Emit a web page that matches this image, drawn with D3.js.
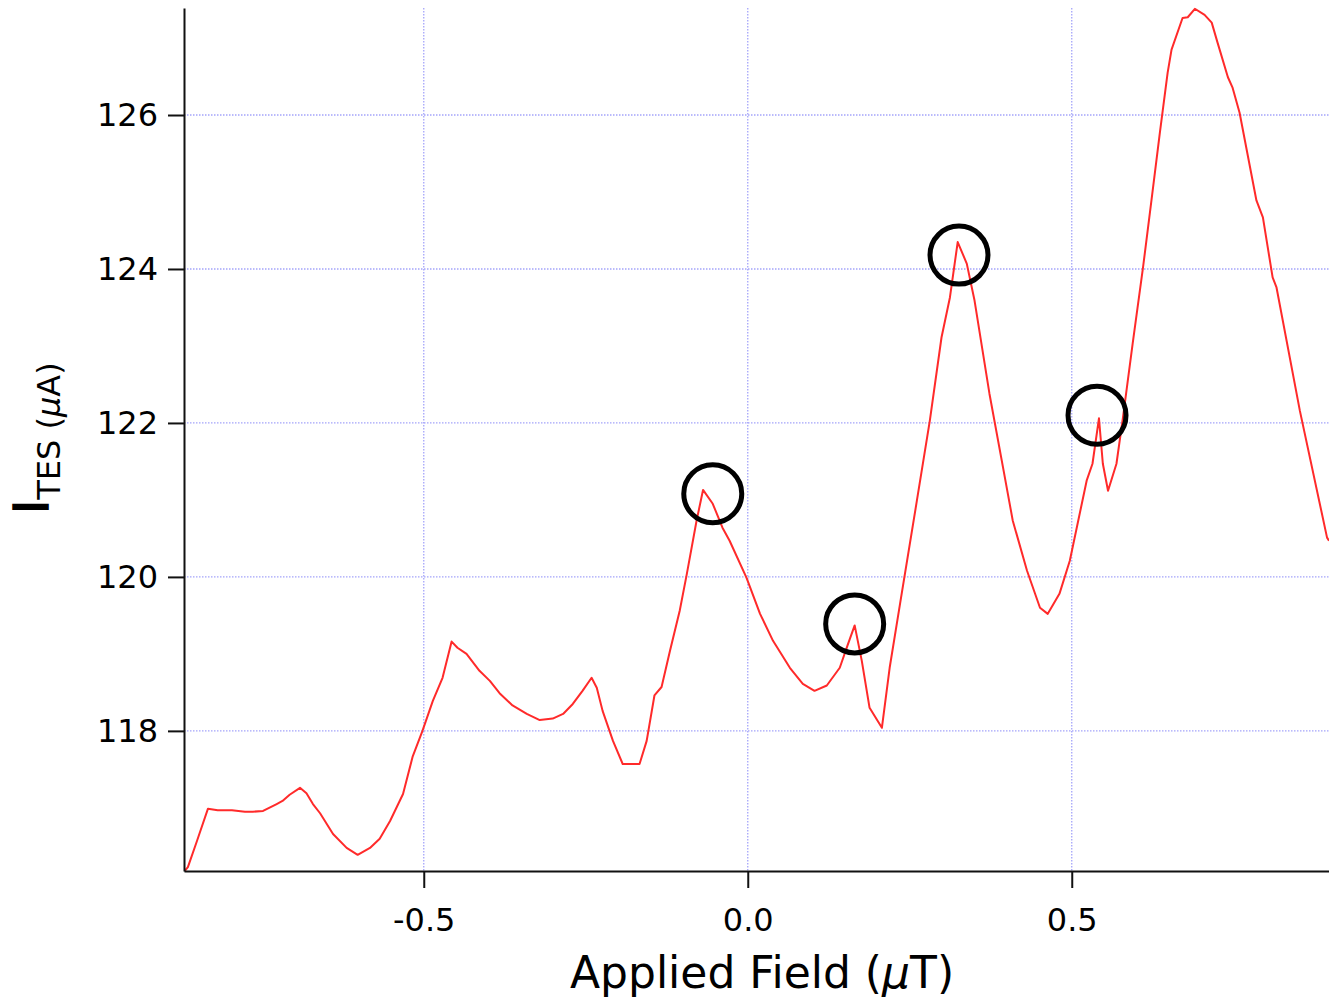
<!DOCTYPE html>
<html><head><meta charset="utf-8">
<script src="https://cdn.jsdelivr.net/npm/d3@7"></script>
<style>body{margin:0;background:#fff}svg{display:block}</style>
</head><body>
<script>
// Applied field (µT)
const fieldValues = [-0.869,-0.864,-0.850,-0.833,-0.818,-0.796,-0.776,-0.764,-0.748,-0.727,-0.718,-0.707,-0.691,-0.681,-0.671,-0.660,-0.640,-0.619,-0.602,-0.583,-0.568,-0.552,-0.532,-0.517,-0.502,-0.486,-0.471,-0.457,-0.448,-0.434,-0.414,-0.398,-0.383,-0.363,-0.341,-0.321,-0.301,-0.285,-0.270,-0.255,-0.241,-0.233,-0.224,-0.208,-0.193,-0.167,-0.156,-0.144,-0.133,-0.120,-0.105,-0.094,-0.079,-0.069,-0.054,-0.039,-0.028,-0.002,0.019,0.039,0.065,0.085,0.103,0.122,0.142,0.154,0.165,0.176,0.188,0.207,0.219,0.235,0.261,0.281,0.299,0.312,0.324,0.338,0.350,0.373,0.394,0.409,0.431,0.451,0.463,0.481,0.497,0.523,0.532,0.542,0.548,0.556,0.569,0.579,0.594,0.610,0.623,0.636,0.648,0.654,0.671,0.679,0.690,0.705,0.716,0.725,0.741,0.748,0.759,0.785,0.795,0.810,0.816,0.852,0.894,0.897];
// I_TES (µA)
const currentValues = [116.18,116.23,116.57,116.99,116.97,116.97,116.95,116.95,116.96,117.05,117.09,117.17,117.26,117.19,117.05,116.93,116.66,116.48,116.39,116.48,116.60,116.83,117.18,117.67,118.00,118.39,118.69,119.16,119.08,119.00,118.78,118.65,118.49,118.33,118.22,118.14,118.16,118.22,118.35,118.52,118.69,118.56,118.26,117.87,117.57,117.57,117.87,118.46,118.57,119.04,119.56,120.04,120.73,121.13,120.95,120.64,120.47,119.99,119.52,119.17,118.82,118.61,118.52,118.59,118.82,119.11,119.37,118.91,118.30,118.04,118.82,119.65,120.99,122.03,123.11,123.63,124.35,124.07,123.59,122.38,121.42,120.73,120.08,119.60,119.52,119.78,120.21,121.25,121.47,122.06,121.47,121.12,121.47,122.07,123.03,124.02,124.89,125.77,126.55,126.85,127.26,127.27,127.38,127.30,127.20,126.94,126.49,126.36,126.03,124.89,124.67,123.89,123.76,122.16,120.51,120.47];
// Annotation circles (field, current)
const circleField = [-0.054, 0.165, 0.326, 0.539];
const circleCurrent = [121.08, 119.39, 124.18, 122.10];
const xTicks = [-0.5, 0.0, 0.5];
const yTicks = [118, 120, 122, 124, 126];
const xDomain = [-0.870, 0.897];
const yDomain = [116.18, 127.39];

const W = 1329, H = 1001;
const m = {left: 184, top: 8, right: 0, bottom: 130};
const svg = d3.select("body").append("svg").attr("width", W).attr("height", H);
const x = d3.scaleLinear().domain(xDomain).range([m.left, W - m.right]);
const y = d3.scaleLinear().domain(yDomain).range([H - m.bottom, m.top]);

const grid = svg.append("g").attr("stroke", "#a4a4fa").attr("stroke-width", 1.3).attr("stroke-dasharray", "1.5,1.5");
grid.selectAll("line.h").data(yTicks).join("line").attr("class","h")
  .attr("x1", m.left).attr("x2", W - m.right).attr("y1", d => y(d)).attr("y2", d => y(d));
grid.selectAll("line.v").data(xTicks).join("line").attr("class","v")
  .attr("y1", m.top).attr("y2", H - m.bottom).attr("x1", d => x(d)).attr("x2", d => x(d));

const line = d3.line().x(d => x(d[0])).y(d => y(d[1]));
const pts = fieldValues.map((f, i) => [f, currentValues[i]]);
svg.append("path").datum(pts).attr("d", line).attr("fill", "none")
  .attr("stroke", "#ff2a2a").attr("stroke-width", 2).attr("stroke-linejoin", "round");

svg.append("g").selectAll("circle").data(circleField).join("circle")
  .attr("cx", d => x(d)).attr("cy", (d, i) => y(circleCurrent[i])).attr("r", 29)
  .attr("fill", "none").attr("stroke", "#000").attr("stroke-width", 5);

const font = "DejaVu Sans, sans-serif";
const xAxis = svg.append("g").attr("transform", `translate(0,${H - m.bottom})`)
  .call(d3.axisBottom(x).tickValues(xTicks).tickFormat(d => d.toFixed(1)).tickSize(17).tickSizeOuter(0).tickPadding(20));
const yAxis = svg.append("g").attr("transform", `translate(${m.left},0)`)
  .call(d3.axisLeft(y).tickValues(yTicks).tickFormat(d3.format("d")).tickSize(16).tickSizeOuter(0).tickPadding(10));
[xAxis, yAxis].forEach(g => {
  g.select(".domain").attr("stroke", "#111").attr("stroke-width", 2);
  g.selectAll(".tick line").attr("stroke", "#111").attr("stroke-width", 2);
  g.selectAll(".tick text").attr("font-family", font).attr("font-size", 32).attr("fill", "#000");
});

svg.append("text").attr("x", 762).attr("y", 988).attr("text-anchor", "middle")
  .attr("font-family", font).attr("font-size", 44).attr("fill", "#000")
  .call(t => { t.append("tspan").text("Applied Field (");
               t.append("tspan").attr("font-style", "italic").text("μ");
               t.append("tspan").text("T)"); });

const yl = svg.append("text").attr("transform", "translate(48,514) rotate(-90)")
  .attr("font-family", font).attr("fill", "#000");
yl.append("tspan").attr("font-size", 48).attr("stroke", "#000").attr("stroke-width", 1.5).text("I");
yl.append("tspan").attr("font-size", 32).attr("dy", 12).text("TES (");
yl.append("tspan").attr("font-size", 32).attr("font-style", "italic").text("μ");
yl.append("tspan").attr("font-size", 32).text("A)");
</script>
</body></html>
